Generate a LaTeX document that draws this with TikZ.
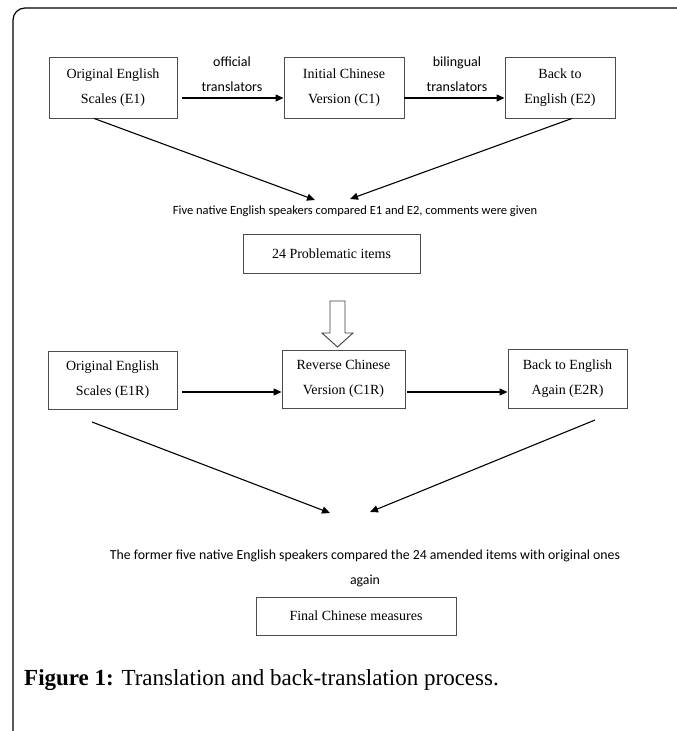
\documentclass[tikz,border=0pt]{standalone}
\usepackage{fontspec}
\setmainfont{Liberation Serif}
\newfontfamily\calibrifont{Carlito}
\usetikzlibrary{arrows.meta}
\begin{document}
\begin{tikzpicture}[x=1pt,y=-1pt,
  box/.style={draw=black!70, line width=0.9pt, fill=white, inner sep=0pt, align=center,
    font=\fontsize{14}{25}\selectfont},
  arr/.style={-{Triangle[length=8pt,width=7pt]}, line width=1.1pt},
  note/.style={font=\calibrifont\fontsize{12.5}{23}\selectfont, align=center, inner sep=0pt},
  frame/.style={line width=1.2pt, rounded corners=12pt}]
\useasboundingbox (0,0) rectangle (677,731);
\fill[white] (0,0) rectangle (677,731);
\draw[frame] (13,731) -- (13,8) -- (677,8);

% first row
\node[box, minimum width=128pt, minimum height=61pt] (e1) at (113,87.5) {Original English\\Scales (E1)};
\node[box, minimum width=120pt, minimum height=61pt] (c1) at (344,87.5) {Initial Chinese\\Version (C1)};
\node[box, minimum width=110pt, minimum height=61pt] (e2) at (560,87.5) {Back to\\English (E2)};
\node[note, font=\calibrifont\fontsize{14}{25}\selectfont] (l1) at (232,74.5) {official\\translators};
\node[note, font=\calibrifont\fontsize{14}{25}\selectfont] (l2) at (457,74.5) {bilingual\\translators};
\draw[arr] ([xshift=5pt,yshift=-10.5pt]e1.east) -- ([yshift=-10.5pt]c1.west);
\draw[arr] ([yshift=-10.5pt]c1.east) -- ([yshift=-10.5pt]e2.west);

\coordinate (m1) at (315,200);
\coordinate (m2) at (350,199);
\draw[arr] ([xshift=-19pt]e1.south) -- (m1);
\draw[arr] ([xshift=12pt]e2.south) -- (m2);

\node[note] (t1) at (355,211) {Five native English speakers compared E1 and E2, comments were given};
\node[box, minimum width=177pt, minimum height=39pt] (p) at (331.5,253.5) {24 Problematic items};

% hollow arrow
\draw[draw=black!75, line width=0.9pt, fill=white]
  (330,301) -- (345,301) -- (345,333) -- (353,333) -- (337.5,347) -- (322,333) -- (330,333) -- cycle;

% second row
\node[box, minimum width=129pt, minimum height=58pt] (e1r) at (112.5,380) {Original English\\Scales (E1R)};
\node[box, minimum width=123pt, minimum height=58pt] (c1r) at (343.5,379) {Reverse Chinese\\Version (C1R)};
\node[box, minimum width=119pt, minimum height=59pt] (e2r) at (567.5,378.5) {Back to English\\Again (E2R)};
\draw[arr] ([xshift=5pt,yshift=-12pt]e1r.east) -- ([yshift=-13pt]c1r.west);
\draw[arr] ([xshift=2pt,yshift=-13pt]c1r.east) -- ([yshift=-13.5pt]e2r.west);

\coordinate (d1) at (92,422);
\coordinate (d2) at (595,420);
\coordinate (m3) at (330,513);
\coordinate (m4) at (370,512);
\draw[arr] (d1) -- (m3);
\draw[arr] (d2) -- (m4);

\node[note, font=\calibrifont\fontsize{13.8}{25}\selectfont] (t2) at (365,568) {The former five native English speakers compared the 24 amended items with original ones\\again};
\node[box, minimum width=200pt, minimum height=38pt] (f) at (356,616) {Final Chinese measures};

\node[anchor=west, inner sep=0pt, font=\fontsize{23}{26}\selectfont] (cap) at (24,680)
  {\textbf{Figure 1:} Translation and back-translation process.};
\end{tikzpicture}
\end{document}
